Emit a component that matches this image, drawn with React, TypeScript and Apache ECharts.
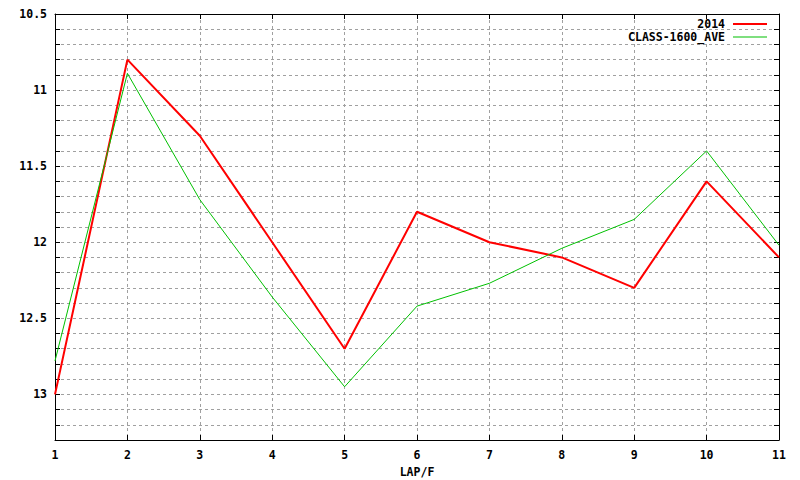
import React, { useEffect, useRef } from "react";
import * as echarts from "echarts";

const laps = ["1", "2", "3", "4", "5", "6", "7", "8", "9", "10", "11"];
const series2014 = [13.0, 10.8, 11.3, 12.0, 12.7, 11.8, 12.0, 12.1, 12.3, 11.6, 12.1];
const seriesClassAve = [12.78, 10.89, 11.72, 12.36, 12.95, 12.42, 12.27, 12.04, 11.85, 11.4, 12.02];
const yMin = 10.5;
const yMax = 13.3;
const yStep = 0.1;

const FONT = "'DejaVu Sans Mono', 'Liberation Mono', monospace";

export default function App() {
  const ref = useRef<HTMLDivElement>(null);
  useEffect(() => {
    if (!ref.current) return;
    const chart = echarts.init(ref.current, null, { renderer: "svg" });
    const labelFmt = (v: number) => {
      const d = v * 2;
      return Math.abs(d - Math.round(d)) < 1e-6 ? String(Math.round(v * 10) / 10) : "";
    };
    const splitLine = {
      show: true,
      lineStyle: { color: "#a0a0a0", type: [3, 3] as any, width: 1 },
    };
    const axisLine = { show: true, lineStyle: { color: "#000", width: 1 } };
    const textStyleBase = { fontFamily: FONT, fontWeight: "bold" as const, fontSize: 11.5, color: "#000" };
    const yBase = {
      type: "value" as const,
      inverse: true,
      min: yMin,
      max: yMax,
      interval: yStep,
      axisLine,
      axisTick: { show: true, inside: true, length: 5, lineStyle: { color: "#000" } },
    };
    const xBase = {
      type: "category" as const,
      data: laps,
      boundaryGap: false,
      axisLine,
      axisTick: { show: true, inside: true, length: 5, alignWithLabel: true, lineStyle: { color: "#000" } },
    };
    chart.setOption({
      animation: false,
      backgroundColor: "#fff",
      grid: { left: 55, width: 724, top: 14, height: 426, containLabel: false, outerBoundsMode: "none" },
      xAxis: [
        {
          ...xBase,
          position: "bottom",
          splitLine,
          axisLabel: { ...textStyleBase, margin: 9 },
          name: "LAP/F",
          nameLocation: "middle",
          nameGap: 24,
          nameTextStyle: { ...textStyleBase },
        },
        {
          ...xBase,
          position: "top",
          splitLine: { show: false },
          axisLabel: { show: false },
        },
      ],
      yAxis: [
        {
          ...yBase,
          position: "left",
          splitLine,
          axisLabel: { ...textStyleBase, margin: 8, formatter: labelFmt },
        },
        {
          ...yBase,
          position: "right",
          splitLine: { show: false },
          axisLabel: { show: false },
        },
      ],
      legend: [
        {
          data: [{ name: "2014", icon: "rect" }],
          right: 33,
          top: 18,
          padding: 0,
          align: "right",
          orient: "vertical",
          itemWidth: 34,
          itemHeight: 2,
          textStyle: { ...textStyleBase, lineHeight: 12, padding: [0, 3, 0, 0] },
          selectedMode: false,
        },
        {
          data: [{ name: "CLASS-1600_AVE", icon: "rect" }],
          right: 33,
          top: 31,
          padding: 0,
          align: "right",
          orient: "vertical",
          itemWidth: 34,
          itemHeight: 1,
          textStyle: { ...textStyleBase, lineHeight: 12, padding: [0, 3, 0, 0] },
          selectedMode: false,
        },
      ],
      series: [
        {
          name: "2014",
          type: "line",
          data: series2014,
          xAxisIndex: 0,
          yAxisIndex: 0,
          symbol: "none",
          color: "#ff0000",
          lineStyle: { color: "#ff0000", width: 2 },
        },
        {
          name: "CLASS-1600_AVE",
          type: "line",
          data: seriesClassAve,
          xAxisIndex: 0,
          yAxisIndex: 0,
          symbol: "none",
          color: "#00c000",
          lineStyle: { color: "#00c000", width: 1 },
        },
      ],
    });
    return () => chart.dispose();
  }, []);
  return (
    <div
      ref={ref}
      style={{ position: "fixed", left: 0, top: 0, width: 800, height: 480, background: "#fff" }}
    />
  );
}
